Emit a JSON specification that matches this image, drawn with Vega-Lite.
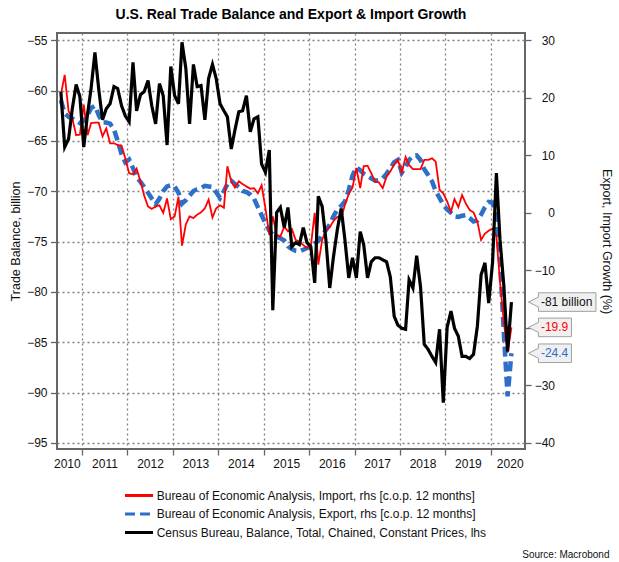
{
  "$schema": "https://vega.github.io/schema/vega-lite/v6.json",
  "width": 468,
  "height": 416,
  "autosize": {"type": "none"},
  "padding": {"left": 57, "top": 33, "right": 94, "bottom": 113},
  "title": {"text": "U.S. Real Trade Balance and Export & Import Growth", "fontSize": 14, "fontWeight": "bold", "font": "Liberation Sans", "color": "#000000", "anchor": "middle", "offset": 11},
  "config": {
    "font": "Liberation Sans",
    "view": {"stroke": "#666666", "strokeWidth": 2},
    "axis": {"labelFont": "Liberation Sans", "labelFontSize": 12, "labelColor": "#111111", "titleFont": "Liberation Sans", "titleFontSize": 12.5, "titleFontWeight": "normal", "titleColor": "#111111", "tickColor": "#666666", "tickWidth": 1.3, "domain": false, "gridColor": "#808080", "gridDash": [2, 3], "gridWidth": 1.3, "gridOpacity": 1, "labelFlush": false, "labelOverlap": false},
    "legend": {"labelFont": "Liberation Sans", "labelFontSize": 12, "labelColor": "#111111", "labelLimit": 700, "symbolType": "M-2,0H2", "symbolSize": 196, "symbolStrokeWidth": 3, "rowPadding": 3.5, "labelOffset": 9.2, "padding": 0}
  },
  "datasets": {
    "trade": [
      {"d":"2010-07-15","bal":-60.1,"imp":20.5,"exp":19.6},
      {"d":"2010-08-15","bal":-65.6,"imp":24.0,"exp":17.3},
      {"d":"2010-09-15","bal":-64.8,"imp":17.7,"exp":16.7},
      {"d":"2010-10-15","bal":-61.8,"imp":16.4,"exp":16.4},
      {"d":"2010-11-15","bal":-59.4,"imp":13.5,"exp":16.0},
      {"d":"2010-12-15","bal":-60.6,"imp":13.6,"exp":15.6},
      {"d":"2011-01-15","bal":-65.6,"imp":18.8,"exp":16.0},
      {"d":"2011-02-15","bal":-62.3,"imp":13.5,"exp":17.0},
      {"d":"2011-03-15","bal":-59.8,"imp":15.6,"exp":18.2},
      {"d":"2011-04-15","bal":-56.2,"imp":15.7,"exp":18.6},
      {"d":"2011-05-15","bal":-59.8,"imp":15.7,"exp":17.0},
      {"d":"2011-06-15","bal":-62.9,"imp":13.3,"exp":15.7},
      {"d":"2011-07-15","bal":-61.8,"imp":14.7,"exp":15.7},
      {"d":"2011-08-15","bal":-61.3,"imp":12.1,"exp":15.5},
      {"d":"2011-09-15","bal":-59.6,"imp":12.1,"exp":14.5},
      {"d":"2011-10-15","bal":-59.8,"imp":11.8,"exp":12.5},
      {"d":"2011-11-15","bal":-61.5,"imp":11.7,"exp":10.2},
      {"d":"2011-12-15","bal":-62.5,"imp":9.5,"exp":8.8},
      {"d":"2012-01-15","bal":-63.1,"imp":6.9,"exp":9.3},
      {"d":"2012-02-15","bal":-57.2,"imp":6.7,"exp":7.8},
      {"d":"2012-03-15","bal":-62.0,"imp":7.7,"exp":6.2},
      {"d":"2012-04-15","bal":-60.4,"imp":5.5,"exp":5.4},
      {"d":"2012-05-15","bal":-60.1,"imp":3.0,"exp":4.5},
      {"d":"2012-06-15","bal":-59.0,"imp":1.1,"exp":3.5},
      {"d":"2012-07-15","bal":-61.5,"imp":0.7,"exp":2.5},
      {"d":"2012-08-15","bal":-63.3,"imp":1.1,"exp":1.5},
      {"d":"2012-09-15","bal":-59.3,"imp":1.3,"exp":2.5},
      {"d":"2012-10-15","bal":-60.5,"imp":0.0,"exp":3.8},
      {"d":"2012-11-15","bal":-65.4,"imp":2.5,"exp":4.6},
      {"d":"2012-12-15","bal":-57.6,"imp":-1.1,"exp":4.8},
      {"d":"2013-01-15","bal":-60.5,"imp":-0.6,"exp":4.6},
      {"d":"2013-02-15","bal":-61.3,"imp":2.8,"exp":3.5},
      {"d":"2013-03-15","bal":-55.2,"imp":-5.7,"exp":1.6},
      {"d":"2013-04-15","bal":-57.8,"imp":-2.0,"exp":2.2},
      {"d":"2013-05-15","bal":-63.3,"imp":-0.6,"exp":3.0},
      {"d":"2013-06-15","bal":-57.4,"imp":-0.9,"exp":3.8},
      {"d":"2013-07-15","bal":-59.6,"imp":-0.3,"exp":4.1},
      {"d":"2013-08-15","bal":-59.5,"imp":0.1,"exp":4.3},
      {"d":"2013-09-15","bal":-62.9,"imp":0.8,"exp":4.7},
      {"d":"2013-10-15","bal":-58.8,"imp":2.3,"exp":4.6},
      {"d":"2013-11-15","bal":-57.4,"imp":-0.8,"exp":4.5},
      {"d":"2013-12-15","bal":-58.8,"imp":0.8,"exp":3.6},
      {"d":"2014-01-15","bal":-61.3,"imp":1.3,"exp":2.6},
      {"d":"2014-02-15","bal":-62.0,"imp":0.9,"exp":3.8},
      {"d":"2014-03-15","bal":-62.6,"imp":8.1,"exp":5.0},
      {"d":"2014-04-15","bal":-65.8,"imp":5.5,"exp":5.6},
      {"d":"2014-05-15","bal":-63.9,"imp":4.4,"exp":5.0},
      {"d":"2014-06-15","bal":-62.1,"imp":5.5,"exp":4.5},
      {"d":"2014-07-15","bal":-62.0,"imp":5.0,"exp":3.8},
      {"d":"2014-08-15","bal":-60.5,"imp":4.6,"exp":3.6},
      {"d":"2014-09-15","bal":-64.1,"imp":4.2,"exp":3.2},
      {"d":"2014-10-15","bal":-62.8,"imp":4.3,"exp":2.5},
      {"d":"2014-11-15","bal":-62.6,"imp":3.4,"exp":1.0},
      {"d":"2014-12-15","bal":-67.3,"imp":4.8,"exp":-0.4},
      {"d":"2015-01-15","bal":-68.1,"imp":0.8,"exp":-1.8},
      {"d":"2015-02-15","bal":-65.9,"imp":-3.8,"exp":-3.1},
      {"d":"2015-03-15","bal":-81.8,"imp":-0.6,"exp":-3.8},
      {"d":"2015-04-15","bal":-72.1,"imp":-3.8,"exp":-4.2},
      {"d":"2015-05-15","bal":-71.6,"imp":-4.1,"exp":-4.4},
      {"d":"2015-06-15","bal":-73.6,"imp":-2.4,"exp":-4.8},
      {"d":"2015-07-15","bal":-71.6,"imp":-3.2,"exp":-5.8},
      {"d":"2015-08-15","bal":-75.5,"imp":-2.8,"exp":-6.3},
      {"d":"2015-09-15","bal":-75.1,"imp":-4.7,"exp":-6.6},
      {"d":"2015-10-15","bal":-75.3,"imp":-5.0,"exp":-6.7},
      {"d":"2015-11-15","bal":-73.6,"imp":-5.6,"exp":-6.4},
      {"d":"2015-12-15","bal":-75.1,"imp":-6.1,"exp":-6.1},
      {"d":"2016-01-15","bal":-75.5,"imp":-5.8,"exp":-5.8},
      {"d":"2016-02-15","bal":-79.1,"imp":0.0,"exp":-5.3},
      {"d":"2016-03-15","bal":-70.5,"imp":-9.0,"exp":-4.9},
      {"d":"2016-04-15","bal":-71.5,"imp":-4.7,"exp":-3.9},
      {"d":"2016-05-15","bal":-74.8,"imp":-3.0,"exp":-3.0},
      {"d":"2016-06-15","bal":-79.6,"imp":-2.5,"exp":-2.0},
      {"d":"2016-07-15","bal":-76.5,"imp":-1.4,"exp":-0.6},
      {"d":"2016-08-15","bal":-73.8,"imp":-0.7,"exp":0.6},
      {"d":"2016-09-15","bal":-71.7,"imp":-0.9,"exp":1.2},
      {"d":"2016-10-15","bal":-74.8,"imp":1.4,"exp":2.0},
      {"d":"2016-11-15","bal":-78.6,"imp":3.3,"exp":4.0},
      {"d":"2016-12-15","bal":-76.6,"imp":4.4,"exp":6.5},
      {"d":"2017-01-15","bal":-78.6,"imp":7.8,"exp":7.9},
      {"d":"2017-02-15","bal":-74.0,"imp":4.3,"exp":7.4},
      {"d":"2017-03-15","bal":-75.3,"imp":8.1,"exp":6.8},
      {"d":"2017-04-15","bal":-78.6,"imp":8.2,"exp":6.4},
      {"d":"2017-05-15","bal":-77.0,"imp":6.9,"exp":6.0},
      {"d":"2017-06-15","bal":-76.6,"imp":5.4,"exp":5.6},
      {"d":"2017-07-15","bal":-76.6,"imp":5.3,"exp":5.7},
      {"d":"2017-08-15","bal":-76.8,"imp":4.3,"exp":6.0},
      {"d":"2017-09-15","bal":-77.0,"imp":6.3,"exp":6.8},
      {"d":"2017-10-15","bal":-78.5,"imp":7.2,"exp":7.8},
      {"d":"2017-11-15","bal":-82.4,"imp":8.4,"exp":8.8},
      {"d":"2017-12-15","bal":-83.3,"imp":9.2,"exp":9.2},
      {"d":"2018-01-15","bal":-83.6,"imp":7.0,"exp":7.0},
      {"d":"2018-02-15","bal":-83.7,"imp":9.7,"exp":8.0},
      {"d":"2018-03-15","bal":-78.8,"imp":8.3,"exp":9.2},
      {"d":"2018-04-15","bal":-79.6,"imp":7.6,"exp":9.9},
      {"d":"2018-05-15","bal":-76.4,"imp":7.6,"exp":10.0},
      {"d":"2018-06-15","bal":-79.5,"imp":7.6,"exp":9.2},
      {"d":"2018-07-15","bal":-85.2,"imp":9.2,"exp":7.6},
      {"d":"2018-08-15","bal":-85.7,"imp":9.2,"exp":6.6},
      {"d":"2018-09-15","bal":-86.4,"imp":9.5,"exp":5.5},
      {"d":"2018-10-15","bal":-87.0,"imp":8.9,"exp":3.8},
      {"d":"2018-11-15","bal":-83.7,"imp":4.0,"exp":2.6},
      {"d":"2018-12-15","bal":-91.0,"imp":3.4,"exp":1.4},
      {"d":"2019-01-15","bal":-83.5,"imp":2.0,"exp":0.6},
      {"d":"2019-02-15","bal":-81.9,"imp":0.2,"exp":0.0},
      {"d":"2019-03-15","bal":-83.6,"imp":2.4,"exp":-0.6},
      {"d":"2019-04-15","bal":-84.4,"imp":1.0,"exp":-0.7},
      {"d":"2019-05-15","bal":-86.4,"imp":3.1,"exp":-0.5},
      {"d":"2019-06-15","bal":-86.4,"imp":1.6,"exp":-0.4},
      {"d":"2019-07-15","bal":-86.6,"imp":0.5,"exp":-0.9},
      {"d":"2019-08-15","bal":-86.2,"imp":0.1,"exp":-1.5},
      {"d":"2019-09-15","bal":-83.4,"imp":-1.5,"exp":-1.3},
      {"d":"2019-10-15","bal":-78.3,"imp":-4.7,"exp":-0.3},
      {"d":"2019-11-15","bal":-77.1,"imp":-3.6,"exp":1.0},
      {"d":"2019-12-15","bal":-81.1,"imp":-3.1,"exp":1.9},
      {"d":"2020-01-15","bal":-77.1,"imp":-2.7,"exp":1.8},
      {"d":"2020-02-15","bal":-68.2,"imp":-4.0,"exp":-1.0},
      {"d":"2020-03-15","bal":-74.8,"imp":-12.0,"exp":-8.0},
      {"d":"2020-04-15","bal":-79.4,"imp":-19.0,"exp":-21.0},
      {"d":"2020-05-15","bal":-85.9,"imp":-24.3,"exp":-31.9},
      {"d":"2020-06-15","bal":-81.0,"imp":-19.9,"exp":-24.4}
    ],
    "ends": [
      {"d":"2020-06-15","s":"bal","v":-81.0,"t":"-81 billion"},
      {"d":"2020-06-15","s":"imp","v":-19.9,"t":"-19.9"},
      {"d":"2020-06-15","s":"exp","v":-24.4,"t":"-24.4"}
    ]
  },
  "layer": [
    {
      "data": {"name": "trade"},
      "encoding": {
        "x": {
          "field": "d", "type": "temporal",
          "scale": {"type": "utc", "domain": [{"year": 2010, "month": 6, "date": 14, "utc": true}, {"year": 2020, "month": 10, "date": 2, "utc": true}]},
          "axis": {
            "orient": "bottom",
            "values": [
              {"year": 2010, "month": 9, "date": 1, "utc": true},
              {"year": 2011, "month": 7, "date": 1, "utc": true},
              {"year": 2012, "month": 7, "date": 1, "utc": true},
              {"year": 2013, "month": 7, "date": 1, "utc": true},
              {"year": 2014, "month": 7, "date": 1, "utc": true},
              {"year": 2015, "month": 7, "date": 1, "utc": true},
              {"year": 2016, "month": 7, "date": 1, "utc": true},
              {"year": 2017, "month": 7, "date": 1, "utc": true},
              {"year": 2018, "month": 7, "date": 1, "utc": true},
              {"year": 2019, "month": 7, "date": 1, "utc": true},
              {"year": 2020, "month": 6, "date": 1, "utc": true}
            ],
            "labelExpr": "utcFormat(datum.value, '%Y')",
            "ticks": false, "tickSize": 0, "grid": false, "labelPadding": 9,
            "title": "Source: Macrobond", "titleX": 552, "titleY": 108, "titleAlign": "right", "titleBaseline": "alphabetic", "titleFontSize": 10, "titleAngle": 0, "titleAnchor": "end"
          }
        },
        "y": {
          "field": "v", "type": "quantitative",
          "scale": {"domain": [-41.043, 31.269], "nice": false, "zero": false},
          "axis": {"orient": "right", "values": [-40, -30, -20, -10, 0, 10, 20, 30], "labelExpr": "datum.value === -20 ? '' : datum.label", "title": "Export, Import Growth (%)", "grid": false, "tickSize": 6, "labelAlign": "right", "labelPadding": 23.5, "titlePadding": 45}
        }
      },
      "layer": [
        {
          "transform": [{"fold": ["exp"], "as": ["s", "v"]}],
          "mark": {"type": "line", "strokeWidth": 4.5, "strokeCap": "butt"},
          "encoding": {
            "color": {"field": "s", "type": "nominal", "scale": {"domain": ["imp", "exp", "bal"], "range": ["#ff0000", "#2e6fc7", "#000000"]}, "legend": {"title": null, "orient": "none", "legendX": 73.5, "legendY": 454, "labelExpr": "datum.value === 'imp' ? 'Bureau of Economic Analysis, Import, rhs [c.o.p. 12 months]' : datum.value === 'exp' ? 'Bureau of Economic Analysis, Export, rhs [c.o.p. 12 months]' : 'Census Bureau, Balance, Total, Chained, Constant Prices, lhs'"}},
            "strokeDash": {"field": "s", "type": "nominal", "scale": {"domain": ["imp", "exp", "bal"], "range": [[1, 0], [10, 5], [1, 0]]}, "legend": {"title": null, "orient": "none", "legendX": 73.5, "legendY": 454, "labelExpr": "datum.value === 'imp' ? 'Bureau of Economic Analysis, Import, rhs [c.o.p. 12 months]' : datum.value === 'exp' ? 'Bureau of Economic Analysis, Export, rhs [c.o.p. 12 months]' : 'Census Bureau, Balance, Total, Chained, Constant Prices, lhs'"}}
          }
        },
        {
          "transform": [{"fold": ["imp"], "as": ["s", "v"]}],
          "mark": {"type": "line", "strokeWidth": 1.8},
          "encoding": {
            "color": {"field": "s", "type": "nominal", "scale": {"domain": ["imp", "exp", "bal"], "range": ["#ff0000", "#2e6fc7", "#000000"]}},
            "strokeDash": {"field": "s", "type": "nominal", "scale": {"domain": ["imp", "exp", "bal"], "range": [[1, 0], [10, 5], [1, 0]]}}
          }
        },
        {
          "data": {"name": "ends"},
          "transform": [{"filter": "datum.s === 'imp'"}],
          "mark": {"type": "point", "shape": "M17,0L27,-5L27,-9.3L60,-9.3L60,9.3L27,9.3L27,5Z", "size": 4, "filled": true, "fill": "#f0f0f0", "stroke": "#a0a0a0", "strokeWidth": 1, "opacity": 1}
        },
        {
          "data": {"name": "ends"},
          "transform": [{"filter": "datum.s === 'imp'"}],
          "mark": {"type": "text", "align": "left", "baseline": "middle", "dx": 29.5, "fontSize": 12, "font": "Liberation Sans", "color": "#ff0000"},
          "encoding": {"text": {"field": "t"}}
        },
        {
          "data": {"name": "ends"},
          "transform": [{"filter": "datum.s === 'exp'"}],
          "mark": {"type": "point", "shape": "M17,0L27,-5L27,-9.3L60,-9.3L60,9.3L27,9.3L27,5Z", "size": 4, "filled": true, "fill": "#f0f0f0", "stroke": "#a0a0a0", "strokeWidth": 1, "opacity": 1}
        },
        {
          "data": {"name": "ends"},
          "transform": [{"filter": "datum.s === 'exp'"}],
          "mark": {"type": "text", "align": "left", "baseline": "middle", "dx": 29.5, "fontSize": 12, "font": "Liberation Sans", "color": "#2e6fc7"},
          "encoding": {"text": {"field": "t"}}
        }
      ]
    },
    {
      "data": {"name": "trade"},
      "encoding": {
        "x": {
          "field": "d", "type": "temporal",
          "scale": {"type": "utc", "domain": [{"year": 2010, "month": 6, "date": 14, "utc": true}, {"year": 2020, "month": 10, "date": 2, "utc": true}]},
          "axis": {
            "orient": "bottom",
            "values": [
              {"year": 2011, "month": 1, "date": 1, "utc": true},
              {"year": 2012, "month": 1, "date": 1, "utc": true},
              {"year": 2013, "month": 1, "date": 1, "utc": true},
              {"year": 2014, "month": 1, "date": 1, "utc": true},
              {"year": 2015, "month": 1, "date": 1, "utc": true},
              {"year": 2016, "month": 1, "date": 1, "utc": true},
              {"year": 2017, "month": 1, "date": 1, "utc": true},
              {"year": 2018, "month": 1, "date": 1, "utc": true},
              {"year": 2019, "month": 1, "date": 1, "utc": true},
              {"year": 2020, "month": 1, "date": 1, "utc": true}
            ],
            "labels": false, "ticks": true, "tickSize": 6, "grid": true, "title": null
          }
        },
        "y": {
          "field": "v", "type": "quantitative",
          "scale": {"domain": [-95.596, -54.275], "nice": false, "zero": false},
          "axis": {"orient": "left", "values": [-95, -90, -85, -80, -75, -70, -65, -60, -55], "title": "Trade Balance, billion", "grid": true, "tickSize": 6.5, "labelPadding": 3.5, "titlePadding": 4}
        }
      },
      "layer": [
        {
          "transform": [{"fold": ["bal"], "as": ["s", "v"]}],
          "mark": {"type": "line", "strokeWidth": 3.2},
          "encoding": {
            "color": {"field": "s", "type": "nominal", "scale": {"domain": ["imp", "exp", "bal"], "range": ["#ff0000", "#2e6fc7", "#000000"]}},
            "strokeDash": {"field": "s", "type": "nominal", "scale": {"domain": ["imp", "exp", "bal"], "range": [[1, 0], [10, 5], [1, 0]]}}
          }
        },
        {
          "data": {"name": "ends"},
          "transform": [{"filter": "datum.s === 'bal'"}],
          "mark": {"type": "point", "shape": "M17,0L27,-5L27,-9.3L84.5,-9.3L84.5,9.3L27,9.3L27,5Z", "size": 4, "filled": true, "fill": "#f0f0f0", "stroke": "#a0a0a0", "strokeWidth": 1, "opacity": 1}
        },
        {
          "data": {"name": "ends"},
          "transform": [{"filter": "datum.s === 'bal'"}],
          "mark": {"type": "text", "align": "left", "baseline": "middle", "dx": 29.5, "fontSize": 12, "font": "Liberation Sans", "color": "#111111"},
          "encoding": {"text": {"field": "t"}}
        }
      ]
    }
  ],
  "resolve": {"scale": {"y": "independent"}, "axis": {"x": "independent"}}
}
